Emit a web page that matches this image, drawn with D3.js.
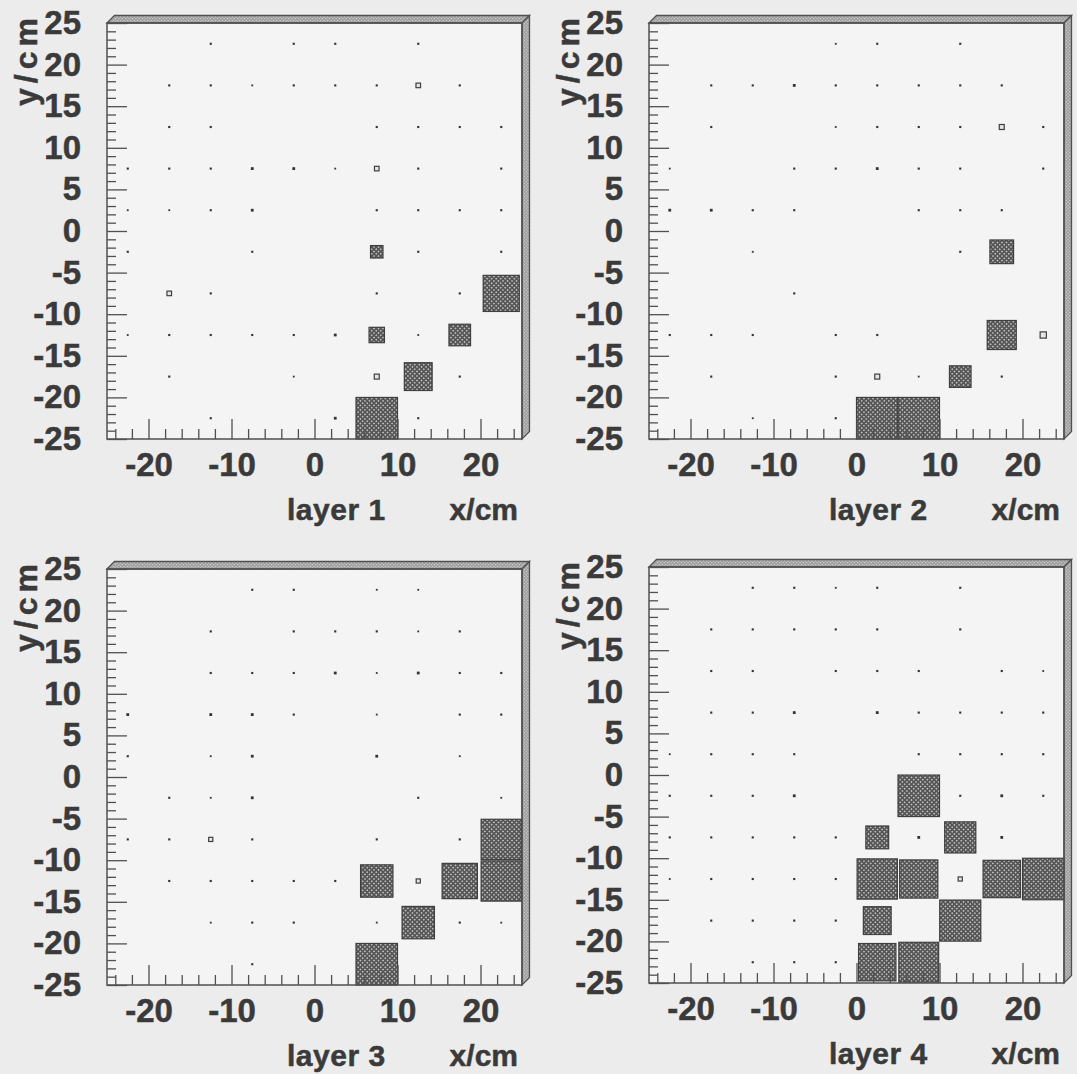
<!DOCTYPE html>
<html>
<head>
<meta charset="utf-8">
<script src="https://cdn.jsdelivr.net/npm/d3@7"></script>
<style>
  body { margin: 0; background: #ececec; }
  svg { display: block; }
  text { font-family: "Liberation Sans", Arial, sans-serif; font-weight: bold; fill: #3a3a3a; stroke: #3a3a3a; stroke-width: 0.5; }
</style>
</head>
<body>
<script>
// bin centres (cm): columns left to right, rows top to bottom
var xCenters = [-22.5, -17.5, -12.5, -7.5, -2.5, 2.5, 7.5, 12.5, 17.5, 22.5];
var yCenters = [22.5, 17.5, 12.5, 7.5, 2.5, -2.5, -7.5, -12.5, -17.5, -22.5];

// cell contents, relative to the largest cell (100)
var layer1 = [
  [0, 0, 4, 0, 4, 4, 0, 4, 0, 0],
  [0, 4, 4, 3, 4, 4, 4, 11, 4, 0],
  [0, 4, 4, 0, 0, 0, 4, 4, 4, 4],
  [4, 4, 4, 6, 6, 3, 11, 4, 0, 4],
  [3, 3, 4, 6, 0, 0, 4, 4, 4, 4],
  [4, 0, 0, 4, 0, 0, 30, 4, 0, 4],
  [0, 11, 4, 0, 0, 0, 4, 0, 4, 87],
  [3, 4, 4, 4, 4, 6, 37, 3, 52, 0],
  [0, 4, 0, 0, 3, 0, 12, 67, 4, 0],
  [0, 0, 4, 0, 0, 6, 100, 4, 0, 0]
];
var layer2 = [
  [0, 0, 0, 0, 3, 4, 0, 4, 0, 0],
  [0, 4, 4, 6, 4, 4, 4, 4, 4, 0],
  [0, 4, 0, 0, 3, 4, 4, 4, 12, 4],
  [3, 0, 0, 4, 4, 6, 4, 4, 0, 4],
  [6, 6, 4, 4, 0, 0, 4, 4, 4, 0],
  [0, 0, 3, 0, 0, 0, 0, 4, 57, 0],
  [0, 0, 0, 4, 0, 0, 0, 0, 0, 0],
  [4, 4, 4, 0, 4, 4, 0, 0, 70, 15],
  [0, 4, 0, 0, 4, 12, 3, 52, 4, 0],
  [0, 0, 3, 0, 4, 100, 100, 0, 0, 0]
];
var layer3 = [
  [0, 0, 0, 4, 4, 0, 3, 3, 0, 0],
  [0, 0, 4, 0, 4, 4, 4, 3, 4, 0],
  [0, 0, 4, 4, 4, 6, 3, 6, 4, 4],
  [6, 0, 6, 6, 4, 0, 3, 0, 4, 4],
  [4, 0, 3, 6, 0, 0, 6, 0, 3, 0],
  [0, 4, 3, 6, 0, 0, 0, 4, 0, 3],
  [4, 4, 10, 4, 0, 0, 4, 0, 4, 97],
  [0, 4, 4, 4, 4, 4, 78, 10, 85, 97],
  [0, 0, 3, 4, 4, 0, 3, 78, 4, 3],
  [0, 0, 0, 4, 0, 0, 100, 0, 0, 0]
];
var layer4 = [
  [0, 0, 4, 4, 3, 4, 0, 4, 0, 0],
  [0, 4, 4, 4, 4, 4, 0, 4, 0, 0],
  [0, 4, 4, 0, 4, 4, 4, 0, 4, 3],
  [0, 4, 4, 6, 0, 6, 4, 4, 4, 4],
  [3, 4, 4, 4, 0, 0, 4, 4, 4, 4],
  [4, 4, 4, 6, 0, 0, 100, 4, 6, 4],
  [4, 4, 4, 4, 4, 55, 6, 75, 6, 0],
  [3, 4, 4, 4, 4, 97, 92, 10, 90, 100],
  [0, 4, 4, 4, 4, 67, 0, 99, 0, 0],
  [0, 0, 4, 4, 4, 90, 96, 0, 0, 0]
];
var layers = [layer1, layer2, layer3, layer4];
var layerNames = ["layer 1", "layer 2", "layer 3", "layer 4"];

var xMajor = [-20, -10, 0, 10, 20];
var xMinor = [-24, -22, -18, -16, -14, -12, -8, -6, -4, -2, 2, 4, 6, 8, 12, 14, 16, 18, 22, 24];
var yMajor = [-25, -20, -15, -10, -5, 0, 5, 10, 15, 20, 25];
var yMinor = d3.range(-24, 25).filter(function (v) { return v % 5 !== 0; });

var W = 1077, H = 1074;
var pw = 415, ph = 416;           // plot area
var depth = 7.5;                  // 3D frame depth
var origins = [[107, 23], [649, 23], [107, 569], [649, 567]];

var svg = d3.select("body").append("svg").attr("width", W).attr("height", H);

// fill patterns
var defs = svg.append("defs");
var boxPat = defs.append("pattern").attr("id", "boxfill").attr("patternUnits", "userSpaceOnUse")
  .attr("width", 3.2).attr("height", 3.2).attr("patternTransform", "rotate(45)");
boxPat.append("rect").attr("width", 3.2).attr("height", 3.2).attr("fill", "#555");
boxPat.append("circle").attr("cx", 1.6).attr("cy", 1.6).attr("r", 0.8).attr("fill", "#d8d8d8");
var framePat = defs.append("pattern").attr("id", "framefill").attr("patternUnits", "userSpaceOnUse")
  .attr("width", 2.4).attr("height", 2.4).attr("patternTransform", "rotate(45)");
framePat.append("rect").attr("width", 2.4).attr("height", 2.4).attr("fill", "#9a9a9a");
framePat.append("rect").attr("width", 1.2).attr("height", 1.2).attr("fill", "#dcdcdc");

var x = d3.scaleLinear().domain([-25, 25]).range([0, pw]);
var y = d3.scaleLinear().domain([-25, 25]).range([ph, 0]);
var size = d3.scaleLinear().domain([0, 100]).range([0, x(0) - x(-5)]);

function side(d) {
  return d.v < 8 ? 0.8 + size(d.v) * 0.8 : size(d.v);
}

layers.forEach(function (grid, k) {
  var g = svg.append("g").attr("transform", "translate(" + origins[k][0] + "," + origins[k][1] + ")");

  // plot background and 3D frame
  g.append("rect").attr("width", pw).attr("height", ph).attr("fill", "#f4f4f4");
  g.append("polygon")
    .attr("points", [[0, 0], [depth, -depth], [pw + depth, -depth], [pw, 0]].join(" "))
    .attr("fill", "url(#framefill)").attr("stroke", "#505050").attr("stroke-width", 1.3);
  g.append("polygon")
    .attr("points", [[pw, 0], [pw + depth, -depth], [pw + depth, ph - depth], [pw, ph]].join(" "))
    .attr("fill", "url(#framefill)").attr("stroke", "#505050").attr("stroke-width", 1.3);

  // cells
  var cells = [];
  grid.forEach(function (row, i) {
    row.forEach(function (v, j) {
      if (v > 0) cells.push({ x: xCenters[j], y: yCenters[i], v: v });
    });
  });
  g.selectAll("rect.cell").data(cells).enter().append("rect")
    .attr("class", "cell")
    .attr("x", function (d) { return x(d.x) - side(d) / 2; })
    .attr("y", function (d) { return y(d.y) - side(d) / 2; })
    .attr("width", side)
    .attr("height", side)
    .attr("fill", function (d) { return d.v < 8 ? "#333" : (d.v < 16 ? "#e6e6e6" : "url(#boxfill)"); })
    .attr("stroke", function (d) { return d.v < 8 ? "none" : "#3f3f3f"; })
    .attr("stroke-width", 1.2);

  // axes: ticks drawn inside the frame
  var fmt = function (d) { return String(d); };
  var base = g.append("g").attr("transform", "translate(0," + ph + ")");
  base.append("g").call(d3.axisBottom(x).tickValues(xMinor).tickSize(-10).tickFormat(""));
  base.append("g").call(d3.axisBottom(x).tickValues(xMajor).tickSize(-20).tickPadding(14).tickFormat(fmt));
  g.append("g").call(d3.axisLeft(y).tickValues(yMinor).tickSize(-9).tickFormat(""));
  g.append("g").call(d3.axisLeft(y).tickValues(yMajor).tickSize(-20).tickPadding(26).tickFormat(fmt));
  g.selectAll(".domain").remove();
  g.selectAll(".tick line").attr("stroke", "#505050").attr("stroke-width", 1.3);
  g.selectAll(".tick text").attr("font-size", 33).attr("font-family", null).attr("fill", null);

  g.append("rect").attr("width", pw).attr("height", ph)
    .attr("fill", "none").attr("stroke", "#505050").attr("stroke-width", 1.5);

  // titles
  g.append("text").attr("x", pw - 4).attr("y", ph + 81).attr("text-anchor", "end")
    .attr("font-size", 30).text("x/cm");
  g.append("text").attr("x", 180).attr("y", ph + 81).attr("font-size", 30)
    .attr("letter-spacing", 0.5).text(layerNames[k]);
  g.append("text").attr("transform", "translate(-70,-10) rotate(-90)").attr("text-anchor", "end")
    .attr("font-size", 32).attr("letter-spacing", 5).text("y/cm");
});
</script>
</body>
</html>
